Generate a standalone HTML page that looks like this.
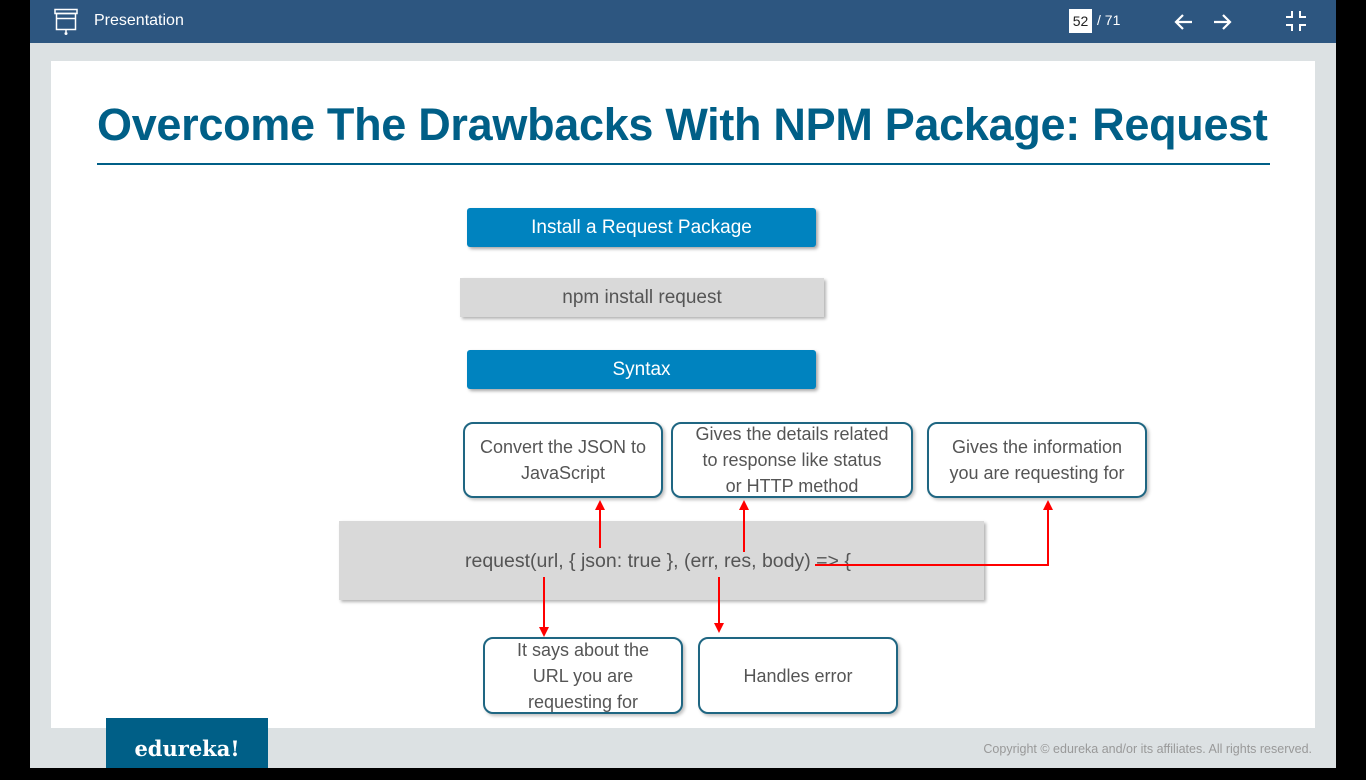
<!DOCTYPE html>
<html><head><style>
*{margin:0;padding:0;box-sizing:border-box}
html,body{width:1366px;height:768px}
body{background:#000;position:relative;overflow:hidden;font-family:"Liberation Sans",sans-serif}
.a{position:absolute}
.bar{left:30px;top:0;width:1306px;height:43px;background:#2d5680}
.bg{left:30px;top:43px;width:1306px;height:725px;background:#dce1e3}
.slide{left:51px;top:61px;width:1264px;height:667px;background:#fff}
.btn{background:#0083bf;color:#fff;font-size:19px;text-align:center;border-radius:3px;box-shadow:2px 2px 3px rgba(0,0,0,.35)}
.gray{background:#d9d9d9;color:#555;font-size:19px;text-align:center;box-shadow:2px 2px 3px rgba(0,0,0,.3)}
.box{border:2px solid #1f6682;border-radius:10px;background:#fff;color:#555;font-size:18px;text-align:center;line-height:26px;display:flex;align-items:center;justify-content:center;box-shadow:2px 2px 3px rgba(0,0,0,.25)}
</style></head><body>
<div class="a bar"></div>
<div class="a bg"></div>
<div class="a slide"></div>
<svg class="a" style="left:53px;top:8px" width="26" height="28" viewBox="0 0 26 28"><rect x="2" y="1.5" width="22" height="4" fill="none" stroke="#fff" stroke-width="1.5"/><rect x="3.5" y="5.5" width="19" height="16" fill="none" stroke="#fff" stroke-width="1.5"/><line x1="3.5" y1="10.5" x2="22.5" y2="10.5" stroke="#fff" stroke-width="1.5"/><line x1="13" y1="21.5" x2="13" y2="24" stroke="#fff" stroke-width="1.5"/><circle cx="13" cy="25.5" r="1.5" fill="#fff"/></svg>
<div class="a" style="left:94px;top:12px;color:#fff;font-size:16px">Presentation</div>
<div class="a" style="left:1069px;top:9px;width:23px;height:24px;background:#fff;color:#222;font-size:14px;line-height:24px;text-align:center">52</div>
<div class="a" style="left:1097px;top:12px;color:#fff;font-size:14px">/ 71</div>
<svg class="a" style="left:1172px;top:11px" width="90" height="22"><path d="M20 11H4M11 4l-7 7 7 7M42 11h16M51 4l7 7-7 7" stroke="#fff" stroke-width="2.2" fill="none"/></svg>
<svg class="a" style="left:1285px;top:10px" width="22" height="22"><path d="M7 1v6H1M15 1v6h6M7 21v-6H1M15 21v-6h6" stroke="#fff" stroke-width="2" fill="none"/></svg>
<div class="a" style="left:97px;top:99px;color:#005f87;font-size:45px;font-weight:bold;white-space:nowrap;letter-spacing:-0.3px">Overcome The Drawbacks With NPM Package: Request</div>
<div class="a" style="left:97px;top:163px;width:1173px;height:2px;background:#005f87"></div>
<div class="a btn" style="left:467px;top:208px;width:349px;height:39px;line-height:40px">Install a Request Package</div>
<div class="a gray" style="left:460px;top:278px;width:364px;height:39px;line-height:40px">npm install request</div>
<div class="a btn" style="left:467px;top:350px;width:349px;height:39px;line-height:40px">Syntax</div>
<div class="a box" style="left:463px;top:422px;width:200px;height:76px">Convert the JSON to<br>JavaScript</div>
<div class="a box" style="left:671px;top:422px;width:242px;height:76px">Gives the details related<br>to response like status<br>or HTTP method</div>
<div class="a box" style="left:927px;top:422px;width:220px;height:76px">Gives the information<br>you are requesting for</div>
<div class="a gray" style="left:339px;top:521px;width:645px;height:79px"></div>
<div class="a" style="left:465px;top:550px;color:#555;font-size:19.5px;white-space:nowrap">request(url, { json: true }, (err, res, body) =&gt; {</div>
<div class="a box" style="left:483px;top:637px;width:200px;height:77px">It says about the<br>URL you are<br>requesting for</div>
<div class="a box" style="left:698px;top:637px;width:200px;height:77px">Handles error</div>
<svg class="a" style="left:0;top:0" width="1366" height="768">
<g stroke="#f00" stroke-width="2" fill="none">
<line x1="600" y1="548" x2="600" y2="508"/>
<line x1="744" y1="552" x2="744" y2="508"/>
<polyline points="815,565 1048,565 1048,508"/>
<line x1="544" y1="577" x2="544" y2="628"/>
<line x1="719" y1="577" x2="719" y2="624"/>
</g>
<g fill="#f00">
<polygon points="595,510 605,510 600,500"/>
<polygon points="739,510 749,510 744,500"/>
<polygon points="1043,510 1053,510 1048,500"/>
<polygon points="539,627 549,627 544,637"/>
<polygon points="714,623 724,623 719,633"/>
</g>
</svg>
<div class="a" style="left:106px;top:718px;width:162px;height:50px;background:#005f87;color:#fff;font-family:'DejaVu Serif',serif;font-weight:bold;font-size:21px;text-align:center;line-height:62px">edureka!</div>
<div class="a" style="left:947px;top:742px;width:365px;color:#999;font-size:12.5px;text-align:right;white-space:nowrap">Copyright © edureka and/or its affiliates. All rights reserved.</div>
</body></html>
